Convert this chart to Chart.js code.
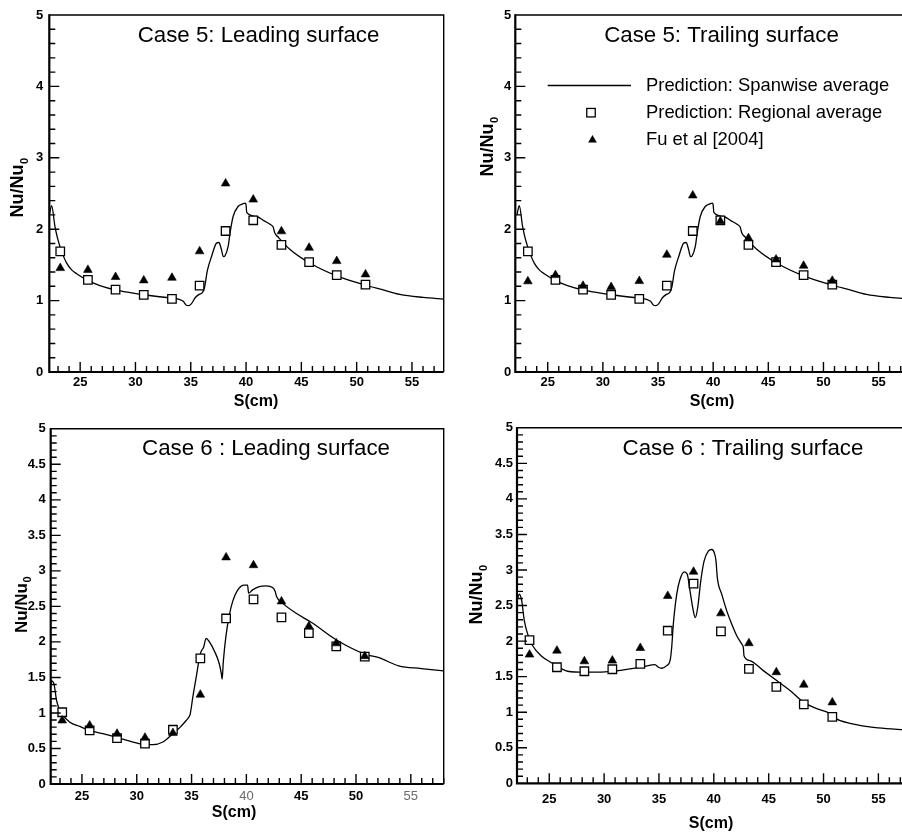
<!DOCTYPE html>
<html lang="en">
<head>
<meta charset="utf-8">
<title>Nu/Nu0 versus S — Cases 5 and 6</title>
<script src="https://cdn.jsdelivr.net/npm/chart.js@4.4.1/dist/chart.umd.min.js"></script>
<style>
  html, body { margin: 0; padding: 0; background: #fff; }
  body { position: relative; width: 902px; height: 833px; overflow: hidden; }
  canvas { position: absolute; display: block; }
</style>
</head>
<body>
<canvas id="c5lead" width="451" height="416" style="left:0;top:0"></canvas>
<canvas id="c5trail" width="470" height="416" style="left:451px;top:0"></canvas>
<canvas id="c6lead" width="451" height="417" style="left:0;top:416px"></canvas>
<canvas id="c6trail" width="470" height="417" style="left:451px;top:416px"></canvas>
<script>
// Streamwise stations (cm) of the regional averages and of the Fu et al. measurements
const stations = [23.2, 25.7, 28.2, 30.75, 33.3, 35.8, 38.15, 40.65, 43.2, 45.7, 48.2, 50.8];

// Tick labels
const sTickLabels = [25, 30, 35, 40, 45, 50, 55];
const nuTicksCase5 = [0, 1, 2, 3, 4, 5];
const nuTicksCase6 = [0, 0.5, 1, 1.5, 2, 2.5, 3, 3.5, 4, 4.5, 5];

// Case 5 — spanwise-averaged prediction (same curve on both surfaces)
const case5SpanS = [22.21, 22.42, 22.72, 22.93, 23.17, 23.47, 23.78, 24.23, 24.68, 25.73,
  26.79, 28.26, 29.8, 30.76, 32.21, 33.29, 34.02, 34.32, 34.6, 34.8,
  35.05, 35.4, 35.8, 36.05, 36.25, 36.5, 36.88, 37.33, 37.55, 37.75,
  37.95, 38.1, 38.38, 38.55, 38.83, 39.28, 39.7, 39.92, 40.0, 40.06,
  40.94, 41.6, 42.2, 42.45, 42.6, 42.9, 43.95, 45.76, 48.2, 50.8,
  52.4, 53.9, 56.0, 57.9];
const case5SpanNu = [2.2, 2.33, 2.04, 1.89, 1.76, 1.63, 1.525, 1.43, 1.376, 1.28,
  1.21, 1.147, 1.105, 1.082, 1.054, 1.035, 1.015, 0.99, 0.935, 0.93,
  0.955, 1.04, 1.09, 1.11, 1.19, 1.42, 1.618, 1.805, 1.814, 1.73,
  1.615, 1.628, 1.758, 1.946, 2.178, 2.318, 2.355, 2.366, 2.34, 2.235,
  2.178, 2.12, 2.065, 2.03, 1.946, 1.89, 1.72, 1.526, 1.345, 1.215,
  1.15, 1.087, 1.045, 1.021];
const case5Regional = [1.69, 1.29, 1.155, 1.08, 1.025, 1.21, 1.975, 2.125, 1.78, 1.54, 1.357, 1.225];
const case5LeadingFu = [1.455, 1.43, 1.33, 1.283, 1.32, 1.69, 2.64, 2.415, 1.97, 1.74, 1.553, 1.367];
const case5TrailingFu = [1.27, 1.357, 1.208, 1.19, 1.273, 1.642, 2.472, 2.11, 1.875, 1.576, 1.488, 1.278];

// Case 6 — leading surface
const case6LeadSpanS = [22.15, 22.24, 22.45, 22.69, 22.93, 23.17, 23.9, 24.81, 25.72, 26.93,
  28.26, 29.65, 30.77, 31.47, 32.38, 33.29, 33.9, 34.51, 34.75, 34.88,
  35.11, 35.42, 35.72, 35.88, 36.09, 36.33, 36.63, 37.09, 37.54, 37.72,
  37.79, 37.9, 38.15, 38.45, 38.75, 39.2, 39.81, 40.11, 40.2, 40.57,
  41.18, 41.79, 42.39, 42.63, 42.75, 43.3, 44.51, 46.02, 48.15, 50.88,
  52.09, 53.9, 55.95, 58.0];
const case6LeadSpanNu = [1.38, 1.453, 1.406, 1.173, 1.057, 0.987, 0.87, 0.81, 0.754, 0.708,
  0.652, 0.591, 0.554, 0.554, 0.591, 0.708, 0.79, 0.894, 0.94, 0.987,
  1.22, 1.5, 1.78, 1.87, 1.92, 2.05, 2.0, 1.87, 1.686, 1.546,
  1.476, 1.73, 2.1, 2.38, 2.57, 2.73, 2.8, 2.8, 2.686, 2.733,
  2.78, 2.79, 2.765, 2.71, 2.64, 2.546, 2.406, 2.267, 2.035, 1.825,
  1.778, 1.662, 1.625, 1.592];
const case6LeadRegional = [1.01, 0.754, 0.647, 0.568, 0.764, 1.769, 2.33, 2.6, 2.346, 2.123, 1.937, 1.792];
const case6LeadFu = [0.894, 0.824, 0.708, 0.652, 0.717, 1.257, 3.19, 3.08, 2.57, 2.22, 1.98, 1.8];

// Case 6 — trailing surface
const case6TrailSpanS = [22.1, 22.27, 22.49, 22.73, 23.03, 23.49, 24.25, 25.16, 25.7, 26.68,
  28.23, 29.72, 30.78, 32.36, 33.57, 34.64, 34.94, 35.25, 35.71, 36.01,
  36.16, 36.31, 36.62, 36.92, 37.31, 37.58, 37.83, 38.13, 38.31, 38.53,
  38.81, 39.11, 39.5, 39.81, 40.05, 40.2, 40.32, 40.72, 41.18, 41.63,
  42.09, 42.54, 42.69, 42.75, 43.3, 44.51, 45.73, 46.95, 48.16, 49.38,
  50.59, 51.0, 52.52, 55.0, 57.08, 58.0];
const case6TrailSpanNu = [2.6, 2.66, 2.565, 2.285, 2.1, 1.935, 1.795, 1.7, 1.65, 1.576,
  1.5625, 1.5625, 1.576, 1.609, 1.641, 1.669, 1.632, 1.618, 1.655, 1.725,
  1.91, 2.24, 2.66, 2.87, 2.975, 2.94, 2.705, 2.425, 2.33, 2.47,
  2.845, 3.125, 3.265, 3.288, 3.24, 3.125, 2.89, 2.66, 2.425, 2.24,
  2.075, 1.96, 1.91, 1.795, 1.725, 1.585, 1.445, 1.306, 1.142, 1.049,
  0.979, 0.92, 0.84, 0.779, 0.756, 0.75];
const case6TrailRegional = [2.015, 1.632, 1.576, 1.604, 1.679, 2.146, 2.808, 2.136, 1.609, 1.355, 1.11, 0.933];
const case6TrailFu = [1.81, 1.866, 1.716, 1.726, 1.903, 2.635, 2.976, 2.39, 1.97, 1.562, 1.387, 1.138];

const FONT = '"Liberation Sans", Arial, Helvetica, sans-serif';
const SERIES_NAMES = ['Prediction: Spanwise average', 'Prediction: Regional average', 'Fu et al [2004]'];

function pairs(xs, ys) { return xs.map((v, i) => ({ x: v, y: ys[i] })); }

function buildDatasets(spanS, spanNu, regional, fu) {
  return [
    { label: SERIES_NAMES[0], data: pairs(spanS, spanNu), borderColor: '#000', borderWidth: 1.3,
      pointRadius: 0, cubicInterpolationMode: 'monotone', fill: false, order: 3 },
    { label: SERIES_NAMES[1], data: pairs(stations, regional), showLine: false,
      pointStyle: 'rect', pointRadius: 6, pointBorderWidth: 1.3,
      pointBorderColor: '#000', pointBackgroundColor: '#fff', order: 2 },
    { label: SERIES_NAMES[2], data: pairs(stations, fu), showLine: false,
      pointStyle: 'triangle', pointRadius: 5, pointBorderWidth: 0.6,
      pointBorderColor: '#000', pointBackgroundColor: '#000', order: 1 }
  ];
}

function drawNuTitle(ctx, cx, cy, size) {
  ctx.save();
  ctx.translate(cx, cy);
  ctx.rotate(-Math.PI / 2);
  const mainFont = `bold ${size}px ${FONT}`;
  const subFont = `bold ${Math.round(size * 0.62)}px ${FONT}`;
  ctx.font = mainFont; const w1 = ctx.measureText('Nu/Nu').width;
  ctx.font = subFont; const w2 = ctx.measureText('0').width;
  const x0 = -(w1 + w2) / 2;
  const base = size * 0.36;
  ctx.textAlign = 'left'; ctx.textBaseline = 'alphabetic';
  ctx.font = mainFont; ctx.fillText('Nu/Nu', x0, base);
  ctx.font = subFont; ctx.fillText('0', x0 + w1 + 0.5, base + size * 0.24);
  ctx.restore();
}

// Frame, inward tick marks, captions, axis titles and the key
const panelDecor = {
  id: 'panelDecor',
  afterDraw(chart, _args, o) {
    const { ctx, chartArea: a } = chart;
    const xs = chart.scales.x, ys = chart.scales.y;
    ctx.save();
    ctx.strokeStyle = '#000';
    ctx.lineWidth = 1.4;
    ctx.beginPath();
    ctx.moveTo(a.left, a.top); ctx.lineTo(a.right, a.top); ctx.lineTo(a.right, a.bottom);
    ctx.stroke();

    ctx.lineWidth = 2.2;
    ctx.beginPath();
    ctx.moveTo(a.left, a.top - 0.7); ctx.lineTo(a.left, a.bottom); ctx.lineTo(a.right, a.bottom);
    ctx.stroke();

    ctx.lineWidth = 1.4;
    ctx.beginPath();
    for (let v = Math.ceil(xs.min); v <= xs.max; v++) {
      const px = xs.getPixelForValue(v);
      const len = v % 5 === 0 ? 10 : 6;
      ctx.moveTo(px, a.bottom); ctx.lineTo(px, a.bottom - len);
    }
    const n = Math.round((ys.max - ys.min) / o.yMinor);
    for (let i = 1; i < n; i++) {
      const v = ys.min + i * o.yMinor;
      const py = ys.getPixelForValue(v);
      const r = v / o.yMajor;
      const major = Math.abs(r - Math.round(r)) < 1e-6;
      ctx.moveTo(a.left, py); ctx.lineTo(a.left + (major ? 10 : 6), py);
    }
    ctx.stroke();

    ctx.fillStyle = '#000';
    ctx.textAlign = 'center'; ctx.textBaseline = 'middle';
    ctx.font = `${o.captionSize}px ${FONT}`;
    ctx.fillText(o.caption, o.captionX, o.captionY);

    ctx.font = `bold ${o.xTitleSize}px ${FONT}`;
    ctx.fillText('S(cm)', o.xTitleX, o.xTitleY);

    drawNuTitle(ctx, o.yTitleX, o.yTitleY, o.yTitleSize);

    if (o.key) {
      const k = o.key;
      ctx.lineWidth = 1.3;
      ctx.beginPath();
      ctx.moveTo(k.lineX0, k.rows[0]); ctx.lineTo(k.lineX1, k.rows[0]);
      ctx.stroke();
      const s = 6 * Math.SQRT1_2;
      ctx.fillStyle = '#fff';
      ctx.fillRect(k.markX - s, k.rows[1] - s, 2 * s, 2 * s);
      ctx.strokeRect(k.markX - s, k.rows[1] - s, 2 * s, 2 * s);
      ctx.fillStyle = '#000';
      const r = 5, ty = k.rows[2];
      ctx.beginPath();
      ctx.moveTo(k.markX + 1.5, ty - r);
      ctx.lineTo(k.markX + 1.5 + r * 0.866, ty + r * 0.5);
      ctx.lineTo(k.markX + 1.5 - r * 0.866, ty + r * 0.5);
      ctx.closePath(); ctx.fill();
      ctx.textAlign = 'left';
      ctx.font = `${k.size}px ${FONT}`;
      SERIES_NAMES.forEach((t, i) => ctx.fillText(t, k.textX, k.rows[i]));
    }
    ctx.restore();
  }
};

function makePanel(id, p) {
  return new Chart(document.getElementById(id), {
    type: 'line',
    data: { datasets: buildDatasets(p.spanS, p.spanNu, p.regional, p.fu) },
    options: {
      responsive: false,
      animation: false,
      devicePixelRatio: 1,
      events: [],
      layout: { padding: { left: 0, top: p.top, right: p.right, bottom: 0 } },
      plugins: {
        legend: { display: false },
        tooltip: { enabled: false },
        panelDecor: p.decor
      },
      scales: {
        x: {
          type: 'linear', min: p.sMin, max: p.sMax,
          grid: { display: false, drawTicks: false },
          border: { display: false },
          afterBuildTicks: s => { s.ticks = sTickLabels.map(v => ({ value: v })); },
          afterFit: s => { s.height = p.xAxisH; },
          ticks: {
            padding: p.xPad, autoSkip: false, maxRotation: 0, minRotation: 0,
            callback: v => String(v),
            color: c => (p.faded && c.tick && p.faded.includes(c.tick.value)) ? '#6a6a6a' : '#000',
            font: c => ({ family: FONT, size: 13,
              weight: (p.faded && c.tick && p.faded.includes(c.tick.value)) ? 'normal' : 'bold' })
          }
        },
        y: {
          type: 'linear', min: 0, max: 5,
          grid: { display: false, drawTicks: false },
          border: { display: false },
          afterBuildTicks: s => { s.ticks = p.nuTicks.map(v => ({ value: v })); },
          afterFit: s => { s.width = p.yAxisW; },
          ticks: { padding: p.yPad, callback: v => String(v), color: '#000',
            font: { family: FONT, size: 13, weight: 'bold' } }
        }
      }
    },
    plugins: [panelDecor]
  });
}

makePanel('c5lead', {
  spanS: case5SpanS, spanNu: case5SpanNu, regional: case5Regional, fu: case5LeadingFu,
  sMin: 22.21, sMax: 57.87, top: 15, right: 7, yAxisW: 49.3, xAxisH: 44, xPad: 3, yPad: 6,
  nuTicks: nuTicksCase5,
  decor: { yMinor: 0.2, yMajor: 1, caption: 'Case 5: Leading surface', captionSize: 22.3,
    captionX: 258.5, captionY: 36, xTitleSize: 16, xTitleX: 256, xTitleY: 402,
    yTitleX: 17, yTitleY: 188, yTitleSize: 18 }
});

makePanel('c5trail', {
  spanS: case5SpanS, spanNu: case5SpanNu, regional: case5Regional, fu: case5TrailingFu,
  sMin: 22.06, sMax: 58, top: 15, right: 9.3, yAxisW: 64.3, xAxisH: 44, xPad: 3, yPad: 4,
  nuTicks: nuTicksCase5,
  decor: { yMinor: 0.2, yMajor: 1, caption: 'Case 5: Trailing surface', captionSize: 22.3,
    captionX: 270.5, captionY: 36, xTitleSize: 16, xTitleX: 261, xTitleY: 402,
    yTitleX: 36, yTitleY: 147, yTitleSize: 18,
    key: { lineX0: 96.7, lineX1: 180, markX: 140, textX: 195, rows: [85.5, 112.7, 140], size: 18.4 } }
});

makePanel('c6lead', {
  spanS: case6LeadSpanS, spanNu: case6LeadSpanNu, regional: case6LeadRegional, fu: case6LeadFu,
  sMin: 22.15, sMax: 58, top: 10, right: 6, yAxisW: 50.7, xAxisH: 49, xPad: 5, yPad: 5,
  nuTicks: nuTicksCase6, faded: [40, 55],
  decor: { yMinor: 0.1, yMajor: 0.5, caption: 'Case 6 : Leading surface', captionSize: 22.3,
    captionX: 266, captionY: 33, xTitleSize: 16, xTitleX: 234, xTitleY: 397,
    yTitleX: 20.5, yTitleY: 189, yTitleSize: 17 }
});

makePanel('c6trail', {
  spanS: case6TrailSpanS, spanNu: case6TrailSpanNu, regional: case6TrailRegional, fu: case6TrailFu,
  sMin: 22.06, sMax: 58, top: 10, right: 9.7, yAxisW: 66, xAxisH: 49.7, xPad: 8.5, yPad: 4,
  nuTicks: nuTicksCase6,
  decor: { yMinor: 0.1, yMajor: 0.5, caption: 'Case 6 : Trailing surface', captionSize: 22.3,
    captionX: 292, captionY: 33, xTitleSize: 16, xTitleX: 260, xTitleY: 408,
    yTitleX: 25, yTitleY: 179, yTitleSize: 18 }
});
</script>
</body>
</html>
